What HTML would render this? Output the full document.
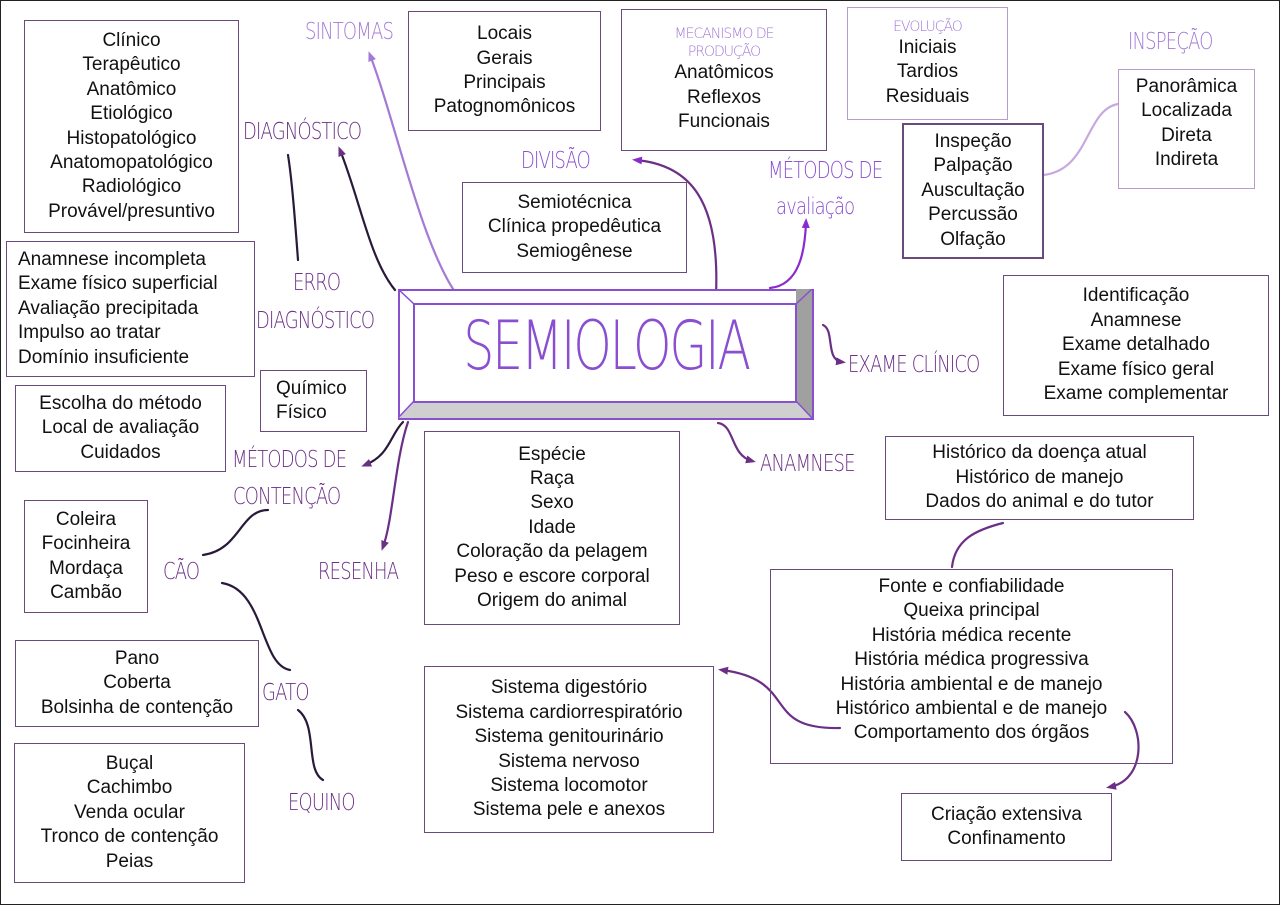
<!DOCTYPE html>
<html><head><meta charset="utf-8"><style>
body{margin:0;width:1280px;height:905px;background:#fff;position:relative;overflow:hidden;font-family:"Liberation Sans",sans-serif}
.frame{position:absolute;left:0;top:0;width:1278px;height:903px;border:1px solid #222}
.b{position:absolute;border:1.5px solid #6a4a7c;box-sizing:border-box;text-align:center;font-size:19px;line-height:24.4px;color:#111;display:flex;flex-direction:column;justify-content:center}
.l{position:absolute;font-family:"DejaVu Sans","Liberation Sans",sans-serif;font-weight:200;color:#6b2f85;font-size:23px;letter-spacing:-1px;transform:scaleX(.78);transform-origin:left top;white-space:nowrap;line-height:1}
.lt{color:#a37ad6}
.sm{font-size:14px;color:#a37ad6;font-family:"DejaVu Sans",sans-serif;font-weight:200;line-height:18px;letter-spacing:-1px}
svg{position:absolute;left:0;top:0}
</style></head><body>
<div class="frame"></div>
<svg width="1280" height="905" fill="none" stroke-width="2.2" stroke-linecap="round">
<defs>
<marker id="a" markerUnits="userSpaceOnUse" markerWidth="10" markerHeight="10" refX="6" refY="5" orient="auto"><path d="M0,1L10,5L0,9z" fill="#6b2f85" stroke="none"/></marker>
<marker id="b" markerUnits="userSpaceOnUse" markerWidth="10" markerHeight="10" refX="6" refY="5" orient="auto"><path d="M0,1L10,5L0,9z" fill="#8a2bd0" stroke="none"/></marker>
<marker id="c" markerUnits="userSpaceOnUse" markerWidth="10" markerHeight="10" refX="6" refY="5" orient="auto"><path d="M0,1L10,5L0,9z" fill="#a37ad6" stroke="none"/></marker>
</defs>
<path d="M455 292 C420 240 395 120 370 55" stroke="#a37ad6" marker-end="url(#c)"/>
<path d="M395 290 C370 260 360 200 340 150" stroke="#2a1a3a" marker-end="url(#a)"/>
<path d="M298 260 C295 220 292 180 288 155" stroke="#2a1a3a"/>
<path d="M716 295 C720 200 690 165 636 160" stroke="#6b2f85" marker-end="url(#b)"/>
<path d="M770 288 C800 285 805 250 806 222" stroke="#8a2bd0" marker-end="url(#b)"/>
<path d="M1043 175 C1090 170 1085 110 1118 104" stroke="#c8a8e0"/>
<path d="M823 325 C835 330 825 360 842 362" stroke="#6b2f85" marker-end="url(#a)"/>
<path d="M718 423 C735 425 730 455 752 461" stroke="#6b2f85" marker-end="url(#a)"/>
<path d="M403 422 C390 435 390 455 365 465" stroke="#2a1a3a" marker-end="url(#a)"/>
<path d="M408 422 C395 460 393 520 383 547" stroke="#6b2f85" marker-end="url(#a)"/>
<path d="M268 510 C240 510 240 550 203 555" stroke="#2a1a3a"/>
<path d="M222 583 C265 590 260 665 290 670" stroke="#2a1a3a"/>
<path d="M298 710 C318 725 305 770 323 780" stroke="#2a1a3a"/>
<path d="M1003 523 C975 530 955 540 952 567" stroke="#6b2f85"/>
<path d="M840 728 C760 730 800 680 722 670" stroke="#6b2f85" marker-end="url(#a)"/>
<path d="M1125 712 C1145 730 1145 780 1110 787" stroke="#6b2f85" marker-end="url(#a)"/>
</svg>

<!-- central -->
<div style="position:absolute;left:398px;top:289px;width:416px;height:131px;box-sizing:border-box;border:2px solid #8a4fd0;background:#fff">
<svg width="416" height="131" style="left:-2px;top:-2px"><polygon points="398,0 414,0 414,129 398,112 398,17" fill="#a0a0a0"/><polygon points="0,129 414,129 398,112 16,112" fill="#cfcfcf"/><rect x="16" y="15" width="382" height="98" fill="none" stroke="#8a4fd0" stroke-width="2"/><path d="M0,0L16,15M414,0L398,15M0,129L16,112M414,129L398,112" stroke="#8a4fd0" stroke-width="1.5"/></svg>
<div style="position:absolute;left:0;width:100%;top:22px;text-align:center;font-family:'DejaVu Sans',sans-serif;font-weight:200;font-size:68px;color:#8a4fd0;letter-spacing:-3px;line-height:68px;transform:scaleX(.72)">SEMIOLOGIA</div>
</div>

<div class="b" style="left:24px;top:20px;width:215px;height:213px">Clínico<br>Terapêutico<br>Anatômico<br>Etiológico<br>Histopatológico<br>Anatomopatológico<br>Radiológico<br>Provável/presuntivo</div>
<div class="b" style="left:408px;top:11px;width:193px;height:120px">Locais<br>Gerais<br>Principais<br>Patognomônicos</div>
<div class="b" style="left:621px;top:9px;width:206px;height:142px"><span class="sm">MECANISMO DE<br>PRODUÇÃO</span>Anatômicos<br>Reflexos<br>Funcionais</div>
<div class="b" style="left:847px;top:7px;width:161px;height:113px;border-color:#b89ccc"><span class="sm">EVOLUÇÃO</span>Iniciais<br>Tardios<br>Residuais</div>
<div class="b" style="left:902px;top:123px;width:142px;height:136px;border-width:2px">Inspeção<br>Palpação<br>Auscultação<br>Percussão<br>Olfação</div>
<div class="b" style="left:1118px;top:69px;width:137px;height:120px;border-color:#b89ccc;justify-content:flex-start;padding-top:5px">Panorâmica<br>Localizada<br>Direta<br>Indireta</div>
<div class="b" style="left:462px;top:182px;width:225px;height:91px">Semiotécnica<br>Clínica propedêutica<br>Semiogênese</div>
<div class="b" style="left:6px;top:241px;width:249px;height:136px;text-align:left;padding-left:11px">Anamnese incompleta<br>Exame físico superficial<br>Avaliação precipitada<br>Impulso ao tratar<br>Domínio insuficiente</div>
<div class="b" style="left:260px;top:370px;width:107px;height:62px;text-align:left;padding-left:15px">Químico<br>Físico</div>
<div class="b" style="left:15px;top:385px;width:211px;height:87px">Escolha do método<br>Local de avaliação<br>Cuidados</div>
<div class="b" style="left:1003px;top:275px;width:266px;height:141px">Identificação<br>Anamnese<br>Exame detalhado<br>Exame físico geral<br>Exame complementar</div>
<div class="b" style="left:885px;top:436px;width:309px;height:84px">Histórico da doença atual<br>Histórico de manejo<br>Dados do animal e do tutor</div>
<div class="b" style="left:424px;top:431px;width:256px;height:194px">Espécie<br>Raça<br>Sexo<br>Idade<br>Coloração da pelagem<br>Peso e escore corporal<br>Origem do animal</div>
<div class="b" style="left:24px;top:500px;width:124px;height:113px">Coleira<br>Focinheira<br>Mordaça<br>Cambão</div>
<div class="b" style="left:770px;top:569px;width:403px;height:195px;justify-content:flex-start;padding-top:5px">Fonte e confiabilidade<br>Queixa principal<br>História médica recente<br>História médica progressiva<br>História ambiental e de manejo<br>Histórico ambiental e de manejo<br>Comportamento dos órgãos</div>
<div class="b" style="left:15px;top:640px;width:244px;height:87px">Pano<br>Coberta<br>Bolsinha de contenção</div>
<div class="b" style="left:424px;top:666px;width:290px;height:167px">Sistema digestório<br>Sistema cardiorrespiratório<br>Sistema genitourinário<br>Sistema nervoso<br>Sistema locomotor<br>Sistema pele e anexos</div>
<div class="b" style="left:901px;top:793px;width:211px;height:68px">Criação extensiva<br>Confinamento</div>
<div class="b" style="left:14px;top:743px;width:231px;height:140px">Buçal<br>Cachimbo<br>Venda ocular<br>Tronco de contenção<br>Peias</div>

<div class="l lt" style="left:305px;top:21px">SINTOMAS</div>
<div class="l" style="left:243px;top:121px">DIAGNÓSTICO</div>
<div class="l" style="left:521px;top:150px;color:#8a4fd0">DIVISÃO</div>
<div class="l" style="left:768px;top:160px;color:#8a4fd0">MÉTODOS DE</div>
<div class="l" style="left:776px;top:196px;color:#8a4fd0">avaliação</div>
<div class="l lt" style="left:1128px;top:31px">INSPEÇÃO</div>
<div class="l" style="left:293px;top:272px">ERRO</div>
<div class="l" style="left:256px;top:310px">DIAGNÓSTICO</div>
<div class="l" style="left:848px;top:354px">EXAME CLÍNICO</div>
<div class="l" style="left:760px;top:453px">ANAMNESE</div>
<div class="l" style="left:232px;top:449px">MÉTODOS DE</div>
<div class="l" style="left:233px;top:486px">CONTENÇÃO</div>
<div class="l" style="left:163px;top:561px">CÃO</div>
<div class="l" style="left:318px;top:561px">RESENHA</div>
<div class="l" style="left:262px;top:682px">GATO</div>
<div class="l" style="left:288px;top:792px">EQUINO</div>
</body></html>
